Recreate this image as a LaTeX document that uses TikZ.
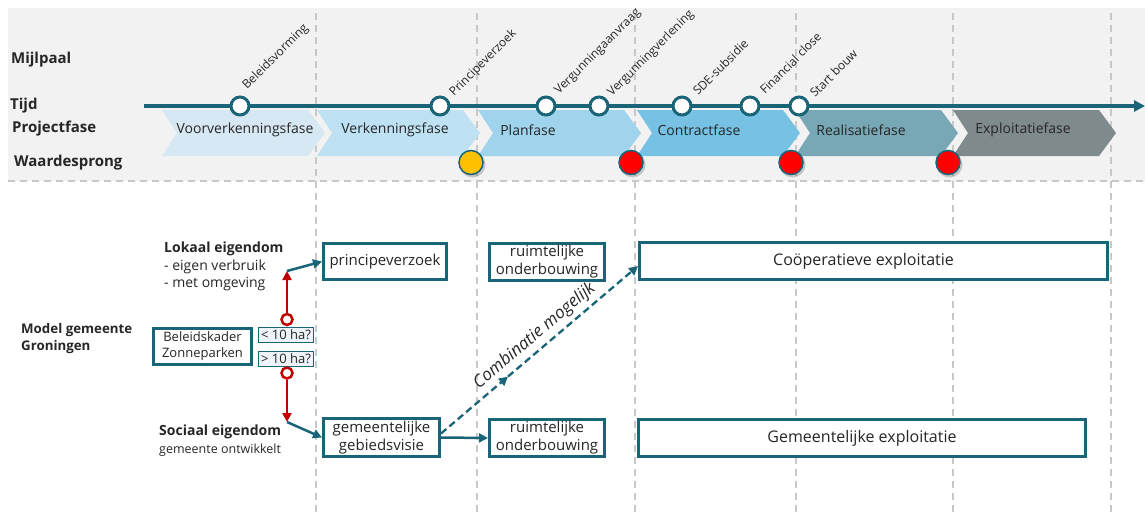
\documentclass[tikz,border=0pt]{standalone}
\usepackage{fontspec}
\setmainfont{Open Sans}
\usetikzlibrary{arrows.meta,calc,decorations.markings}

\definecolor{petrol}{HTML}{1A6478}
\definecolor{txt}{HTML}{262626}
\definecolor{band}{HTML}{F2F2F2}
\definecolor{guide}{HTML}{C8C8C8}
\definecolor{chA}{HTML}{D6E8F4}
\definecolor{chB}{HTML}{BEE1F4}
\definecolor{chC}{HTML}{9FD4EC}
\definecolor{chD}{HTML}{77C2E4}
\definecolor{chE}{HTML}{78A8B5}
\definecolor{chF}{HTML}{7F8A8C}
\definecolor{amber}{HTML}{FFC000}
\definecolor{signal}{HTML}{FF0000}
\definecolor{darkred}{HTML}{C00000}
\definecolor{hafill}{HTML}{EEF3F9}

\begin{document}
\begin{tikzpicture}[x=1pt,y=-1pt,
  every node/.style={text=txt},
  rowlabel/.style={anchor=west, inner sep=0pt, font=\fontsize{15}{18}\selectfont\bfseries},
  phase/.style={inner sep=0pt, font=\fontsize{14}{17}\selectfont},
  milestone/.style={circle, draw=petrol, line width=3pt, fill=white, minimum size=18pt, inner sep=0pt},
  mslabel/.style={rotate=45, anchor=base west, inner sep=0pt, font=\fontsize{12}{14}\selectfont},
  jump/.style={circle, draw=petrol, line width=1.5pt, minimum size=24pt, inner sep=0pt},
  guideline/.style={draw=guide, line width=1.2pt, dash pattern=on 7pt off 5pt},
  box/.style={draw=petrol, line width=3pt, fill=white, inner sep=0pt, align=center,
    font=\fontsize{15}{18}\selectfont},
  habox/.style={draw=petrol, line width=1.5pt, fill=hafill, inner sep=0pt,
    minimum width=55pt, minimum height=15pt, font=\fontsize{13}{15}\selectfont},
  choice/.style={circle, draw=darkred, line width=2.5pt, fill=white, minimum size=11pt, inner sep=0pt},
  flow/.style={draw=petrol, line width=2.5pt, -{Triangle[length=9pt,width=9pt]}},
  redflow/.style={draw=darkred, line width=2.5pt, -{Triangle[length=9pt,width=9pt]}},
  sidetext/.style={anchor=west, inner sep=0pt, align=left, font=\fontsize{14}{17.5}\selectfont},
]
\useasboundingbox (0,0) rectangle (1145,515);

% header band
\fill[band] (8,8) rectangle (1145,181);
\draw[guideline] (8,181) -- (1145,181);
\foreach \x in {316,477,635,796,953,1111}
  \draw[guideline] (\x,13) -- (\x,515);

% row titles
\node[rowlabel] (r-mijl) at (11,60) {Mijlpaal};
\node[rowlabel] (r-tijd) at (10,106) {Tijd};
\node[rowlabel] (r-fase) at (12,129) {Projectfase};
\node[rowlabel] (r-wrd) at (14,163) {Waardesprong};

% project phases as chevrons
\foreach \L/\c/\t/\tx [count=\i] in {162/chA/Voorverkenningsfase/245,
    317/chB/Verkenningsfase/395, 478/chC/Planfase/528, 637/chD/Contractfase/699,
    795/chE/Realisatiefase/861, 953/chF/Exploitatiefase/1023} {
  \fill[\c] (\L,110) -- ++(146,0) -- ++(17,23) -- ++(-17,23) -- ++(-146,0) -- ++(15,-23) -- cycle;
  \node[phase] (ph\i) at (\tx,130) {\t};
}

% time axis
\coordinate (t0) at (144,106);
\coordinate (t1) at (1145,106);
\draw[petrol, line width=3.5pt, -{Triangle[length=11pt,width=11pt]}] (t0) -- (t1);

% milestones
\foreach \x/\lx/\ly/\t [count=\i] in {240/247/90/Beleidsvorming,
    440/454/97/Principeverzoek, 546/559/95/Vergunningaanvraag,
    599/612/97/Vergunningverlening, 682/698/96/SDE-subsidie,
    750/765/95/Financial close, 799/815/98/Start bouw} {
  \node[milestone] (m\i) at (\x,106) {};
  \node[mslabel] (ml\i) at (\lx,\ly) {\t};
}

% value jumps
\foreach \x/\c [count=\i] in {471/amber, 631/signal, 791/signal, 948/signal} {
  \fill[black, opacity=0.18] (\x+1.5,164.5) circle (13pt);
  \node[jump, fill=\c] (w\i) at (\x,162.5) {};
}

% left-hand descriptions
\node[sidetext] (lokaal) at (164,266.5) {\textbf{Lokaal eigendom}\\- eigen verbruik\\- met omgeving};
\node[sidetext, font=\fontsize{13.3}{17}\selectfont\bfseries] (model) at (21,338.5) {Model gemeente\\Groningen};
\node[sidetext] (sociaal) at (159,440.5) {\textbf{Sociaal eigendom}\\{\fontsize{12.5}{15}\selectfont gemeente ontwikkelt}};

% policy framework and size split
\node[box, minimum width=98pt, minimum height=36pt, font=\fontsize{13}{16}\selectfont] (bz) at (202.5,346.5) {Beleidskader\\Zonneparken};
\node[habox] (lt) at (286,335) {< 10 ha?};
\node[habox] (gt) at (286,359) {> 10 ha?};
\node[choice] (c1) at (287,319.5) {};
\node[choice] (c2) at (287,373) {};
\coordinate (up) at (287,271);
\coordinate (dn) at (287,422);
\draw[redflow] (c1) -- (up);
\draw[redflow] (c2) -- (dn);

% process boxes
\node[box, minimum width=123pt, minimum height=36pt] (pv) at (385,261.5) {principeverzoek};
\node[box, minimum width=115pt, minimum height=37pt] (ro1) at (547,262) {ruimtelijke\\onderbouwing};
\node[box, minimum width=468pt, minimum height=37pt, font=\fontsize{16}{19}\selectfont] (co) at (873.5,261) {Coöperatieve exploitatie\hspace*{20pt}};
\node[box, minimum width=116pt, minimum height=38pt] (gv) at (381.5,437.5) {gemeentelijke\\gebiedsvisie};
\node[box, minimum width=115pt, minimum height=37pt] (ro2) at (547,438) {ruimtelijke\\onderbouwing};
\node[box, minimum width=447pt, minimum height=37pt, font=\fontsize{16}{19}\selectfont] (ge) at (862,438) {Gemeentelijke exploitatie};

% connectors
\draw[flow] (up) -- (pv.west);
\draw[flow] (dn) -- (gv.west);
\draw[flow] (gv.east) -- (ro2.west);
\draw[petrol, line width=2.3pt, dash pattern=on 7pt off 4pt,
  -{Triangle[length=9pt,width=9pt]},
  postaction={decorate, decoration={markings,
    mark=at position 0.34 with {\arrow{Triangle[length=9pt,width=9pt]}}}}]
  ($(gv.east)+(0,-4)$) -- node[pos=0.52, sloped, above=4pt, inner sep=0pt,
    font=\fontsize{17}{20}\selectfont\itshape] (combi) {Combinatie mogelijk}
  ($(co.west)+(0,5)$);
\end{tikzpicture}
\end{document}
